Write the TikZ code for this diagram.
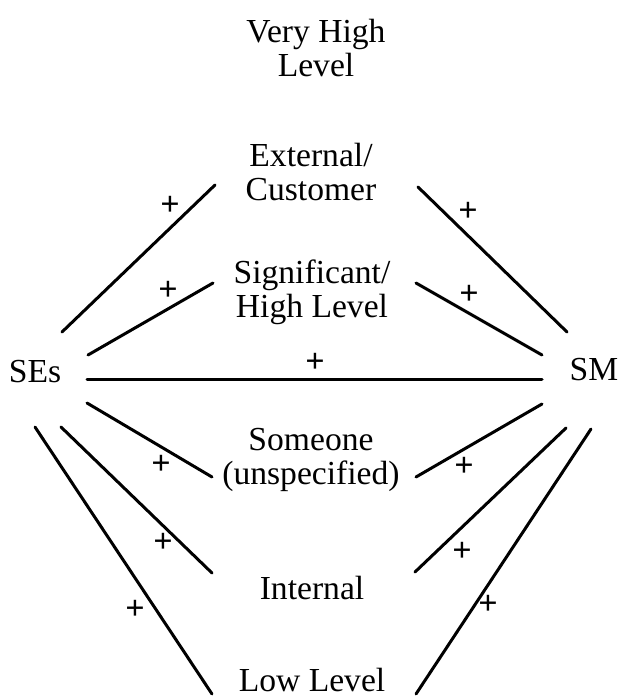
\documentclass[tikz,border=0pt]{standalone}
\usepackage{fontspec}
\setmainfont{Liberation Serif}
\usepackage{tikz}
\usetikzlibrary{positioning}

\begin{document}
\begin{tikzpicture}[x=0.5pt, y=-0.5pt,
      lvl/.style={align=center, inner sep=0pt,
                  font=\fontsize{16.8}{17}\selectfont},
      sgn/.style={inner sep=0pt, font=\bfseries\fontsize{17}{17}\selectfont},
      link/.style={line width=1.5pt, line cap=round}
    ]
    \useasboundingbox (0,0) rectangle (618,696);
    \node[lvl] (vh)   at (316,48)  {Very High\\Level};
    \node[lvl] (ext)  at (311,172) {External/\\Customer};
    \node[lvl] (sig)  at (312,292) {Significant/\\High Level};
    \node[lvl] (some) at (311,460) {Someone\\(unspecified)};
    \node[lvl] (int)  at (312,588) {Internal};
    \node[lvl] (low)  at (312,680) {Low Level};
    \node[lvl] (ses)  at (35,372)  {SEs};
    \node[lvl] (sm)   at (594,370) {SM};
    % line ends
    \coordinate (ses-ext)  at (62,332);
    \coordinate (ses-sig)  at (88,355);
    \coordinate (ses-sm)   at (87,379);
    \coordinate (ses-some) at (87,403);
    \coordinate (ses-int)  at (61,427);
    \coordinate (ses-low)  at (35,427);
    \coordinate (sm-ext)   at (567,332);
    \coordinate (sm-sig)   at (542,355);
    \coordinate (sm-ses)   at (542,379);
    \coordinate (sm-some)  at (542,404);
    \coordinate (sm-int)   at (566,428);
    \coordinate (sm-low)   at (591,429);
    \coordinate (ext-w)  at (215,185);
    \coordinate (ext-e)  at (418,187);
    \coordinate (sig-w)  at (213,283);
    \coordinate (sig-e)  at (416,283);
    \coordinate (some-w) at (212,477);
    \coordinate (some-e) at (416,477);
    \coordinate (int-w)  at (212,573);
    \coordinate (int-e)  at (415,572);
    \coordinate (low-w)  at (212,694);
    \coordinate (low-e)  at (416,694);
    \draw[link] (ses-ext) -- (ext-w);
    \draw[link] (ses-sig) -- (sig-w);
    \draw[link] (ses-sm) -- (sm-ses);
    \draw[link] (ses-some) -- (some-w);
    \draw[link] (ses-int) -- (int-w);
    \draw[link] (ses-low) -- (low-w);
    \draw[link] (ext-e) -- (sm-ext);
    \draw[link] (sig-e) -- (sm-sig);
    \draw[link] (some-e) -- (sm-some);
    \draw[link] (int-e) -- (sm-int);
    \draw[link] (low-e) -- (sm-low);
    % signs
    \node[sgn] (p1)  at (170,206) {+};
    \node[sgn] (p2)  at (168,291) {+};
    \node[sgn] (p3)  at (315,363) {+};
    \node[sgn] (p4)  at (161,465) {+};
    \node[sgn] (p5)  at (163,543) {+};
    \node[sgn] (p6)  at (135,610) {+};
    \node[sgn] (p7)  at (468,212) {+};
    \node[sgn] (p8)  at (469,295) {+};
    \node[sgn] (p9)  at (464,467) {+};
    \node[sgn] (p10) at (462,552) {+};
    \node[sgn] (p11) at (488,605) {+};
  \end{tikzpicture}
\end{document}
